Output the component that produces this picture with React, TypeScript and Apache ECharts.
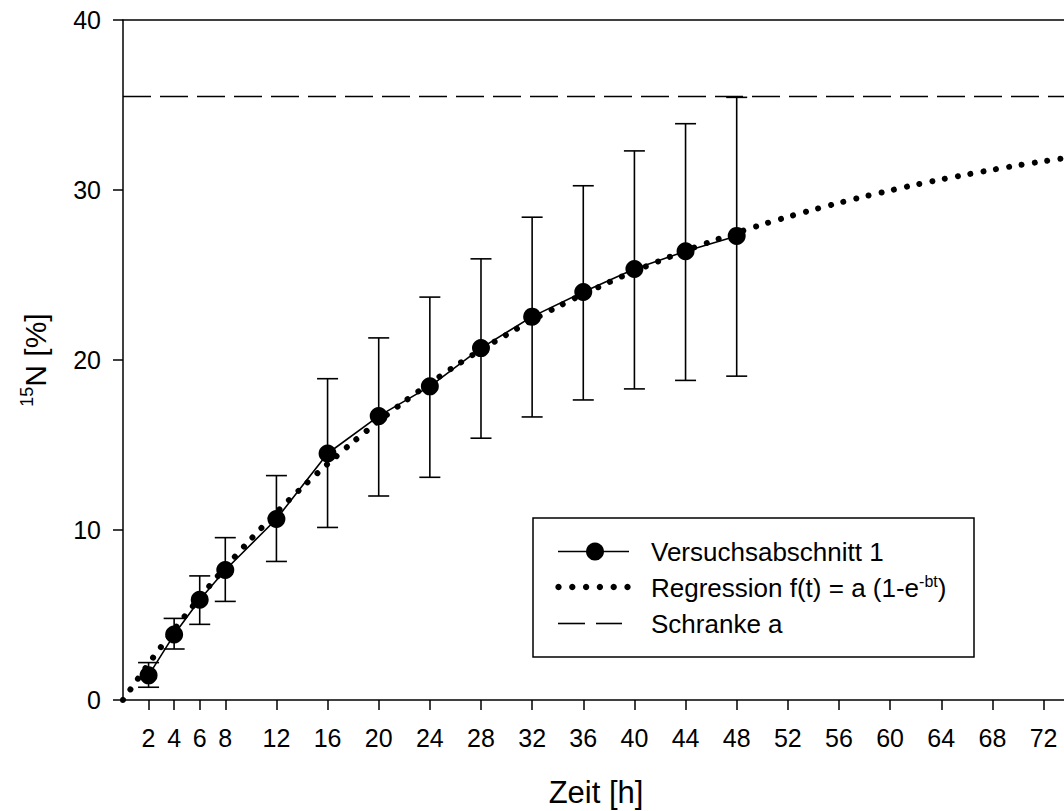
import React, { useEffect, useRef } from "react";
import * as echarts from "echarts";

// Measured means and error bars (Versuchsabschnitt 1)
const times = [2, 4, 6, 8, 12, 16, 20, 24, 28, 32, 36, 40, 44, 48];
const means = [1.45, 3.85, 5.9, 7.65, 10.65, 14.5, 16.7, 18.45, 20.7, 22.55, 24.0, 25.35, 26.4, 27.3];
const lower = [0.75, 3.0, 4.45, 5.8, 8.15, 10.15, 12.0, 13.1, 15.4, 16.65, 17.65, 18.3, 18.8, 19.05];
const upper = [2.2, 4.8, 7.3, 9.55, 13.2, 18.9, 21.3, 23.7, 25.95, 28.4, 30.25, 32.3, 33.9, 35.45];

// Regression curve
const regTimes = [0, 2, 4, 6, 8, 10, 12, 14, 16, 18, 20, 22, 24, 26, 28, 30, 32, 34, 36, 38, 40, 42, 44, 46, 48, 50, 52, 54, 56, 58, 60, 62, 64, 66, 68, 70, 72, 74];
const regValues = [0, 2.13, 4.14, 6.02, 7.8, 9.46, 11.03, 12.5, 13.88, 15.18, 16.4, 17.55, 18.63, 19.65, 20.6, 21.49, 22.34, 23.13, 23.87, 24.57, 25.23, 25.84, 26.43, 26.97, 27.48, 27.97, 28.42, 28.84, 29.24, 29.62, 29.97, 30.31, 30.62, 30.91, 31.19, 31.45, 31.69, 31.92];

// Upper bound a
const schranke = 35.5;

// Axis ticks
const xTicks = [2, 4, 6, 8, 12, 16, 20, 24, 28, 32, 36, 40, 44, 48, 52, 56, 60, 64, 68, 72];
const xMin = 0;
const xMax = 73.6;
const yMin = 0;
const yMax = 40;
const yInterval = 10;

const FONT = "'Liberation Sans', Arial, Helvetica, sans-serif";

export default function App() {
  const ref = useRef<HTMLDivElement>(null);

  useEffect(() => {
    if (!ref.current) return;
    const chart = echarts.init(ref.current, null, { renderer: "svg" });

    const axisLineStyle = { color: "#000", width: 1.5 };

    const errorData = times.map((t, i) => [t, lower[i], upper[i]]);

    const option: any = {
      animation: false,
      backgroundColor: "#fff",
      grid: { left: 123, top: 20, right: 0, bottom: 111, containLabel: false },
      xAxis: [
        {
          type: "value",
          min: xMin,
          max: xMax,
          position: "bottom",
          axisLine: { show: true, onZero: false, lineStyle: axisLineStyle },
          axisTick: { show: true, inside: false, length: 10, customValues: xTicks, lineStyle: axisLineStyle },
          axisLabel: {
            customValues: xTicks,
            fontSize: 25,
            color: "#000",
            fontFamily: FONT,
            margin: 25,
          },
          splitLine: { show: false },
        },
        {
          type: "value",
          min: xMin,
          max: xMax,
          position: "top",
          axisLine: { show: true, onZero: false, lineStyle: axisLineStyle },
          axisTick: { show: false },
          axisLabel: { show: false },
          splitLine: { show: false },
        },
      ],
      yAxis: {
        type: "value",
        min: yMin,
        max: yMax,
        interval: yInterval,
        axisLine: { show: true, onZero: false, lineStyle: axisLineStyle },
        axisTick: { show: true, inside: false, length: 10, lineStyle: axisLineStyle },
        axisLabel: { fontSize: 25, color: "#000", fontFamily: FONT, margin: 22 },
        splitLine: { show: false },
      },
      series: [
        {
          name: "Schranke a",
          type: "line",
          data: [
            [xMin, schranke],
            [xMax, schranke],
          ],
          symbol: "none",
          lineStyle: { color: "#000", width: 1.6, type: [28, 9] },
          z: 1,
        },
        {
          name: "Fehler",
          type: "custom",
          data: errorData,
          z: 2,
          renderItem: (params: any, api: any) => {
            const t = api.value(0);
            const lo = api.coord([t, api.value(1)]);
            const hi = api.coord([t, api.value(2)]);
            const hw = 10.5;
            const style = { stroke: "#000", lineWidth: 1.6 };
            return {
              type: "group",
              children: [
                { type: "line", shape: { x1: lo[0], y1: lo[1], x2: hi[0], y2: hi[1] }, style },
                { type: "line", shape: { x1: lo[0] - hw, y1: lo[1], x2: lo[0] + hw, y2: lo[1] }, style },
                { type: "line", shape: { x1: hi[0] - hw, y1: hi[1], x2: hi[0] + hw, y2: hi[1] }, style },
              ],
            };
          },
        },
        {
          name: "Regression",
          type: "line",
          data: regTimes.map((t, i) => [t, regValues[i]]),
          smooth: 0.3,
          symbol: "none",
          lineStyle: { color: "#000", width: 6, type: [0.01, 13], cap: "round" },
          z: 3,
        },
        {
          name: "Versuchsabschnitt 1",
          type: "line",
          data: times.map((t, i) => [t, means[i]]),
          symbol: "circle",
          symbolSize: 18,
          itemStyle: { color: "#000" },
          lineStyle: { color: "#000", width: 1.6 },
          z: 4,
        },
      ],
      graphic: [
        // Axis titles
        {
          type: "text",
          x: 596,
          y: 792,
          style: {
            text: "Zeit [h]",
            font: `31px ${FONT}`,
            fill: "#000",
            align: "center",
            verticalAlign: "middle",
          },
        },
        {
          type: "text",
          x: 35,
          y: 360,
          rotation: Math.PI / 2,
          style: {
            text: "{sup|15}{m|N [%]}",
            fill: "#000",
            align: "center",
            verticalAlign: "middle",
            rich: {
              sup: { fontSize: 18, fontFamily: FONT, fill: "#000", verticalAlign: "top", lineHeight: 18 },
              m: { fontSize: 30, fontFamily: FONT, fill: "#000", lineHeight: 34 },
            },
          },
        },
        // Legend
        {
          type: "group",
          children: [
            {
              type: "rect",
              shape: { x: 533, y: 518, width: 441, height: 139 },
              style: { fill: "#fff", stroke: "#000", lineWidth: 1.5 },
            },
            { type: "line", shape: { x1: 558, y1: 551.5, x2: 629, y2: 551.5 }, style: { stroke: "#000", lineWidth: 1.6 } },
            { type: "circle", shape: { cx: 595, cy: 551.5, r: 9 }, style: { fill: "#000" } },
            {
              type: "text",
              x: 651,
              y: 552,
              style: { text: "Versuchsabschnitt 1", font: `26px ${FONT}`, fill: "#000", verticalAlign: "middle" },
            },
            ...[0, 1, 2, 3, 4, 5].map((k) => ({
              type: "circle",
              shape: { cx: 558.5 + k * 13.8, cy: 587, r: 3.2 },
              style: { fill: "#000" },
            })),
            {
              type: "text",
              x: 651,
              y: 588,
              style: {
                text: "{m|Regression f(t) = a (1-e}{sup|-bt}{m|)}",
                fill: "#000",
                verticalAlign: "middle",
                rich: {
                  m: { fontSize: 26, fontFamily: FONT, fill: "#000", lineHeight: 30 },
                  sup: { fontSize: 16, fontFamily: FONT, fill: "#000", verticalAlign: "top", lineHeight: 15 },
                },
              },
            },
            { type: "line", shape: { x1: 558, y1: 623.5, x2: 585, y2: 623.5 }, style: { stroke: "#000", lineWidth: 1.6 } },
            { type: "line", shape: { x1: 596, y1: 623.5, x2: 622, y2: 623.5 }, style: { stroke: "#000", lineWidth: 1.6 } },
            {
              type: "text",
              x: 651,
              y: 624,
              style: { text: "Schranke a", font: `26px ${FONT}`, fill: "#000", verticalAlign: "middle" },
            },
          ],
          z: 100,
        },
      ],
    };

    chart.setOption(option);
    return () => chart.dispose();
  }, []);

  return (
    <div
      ref={ref}
      style={{ position: "absolute", left: 0, top: 0, width: 1064, height: 811, background: "#fff" }}
    />
  );
}
